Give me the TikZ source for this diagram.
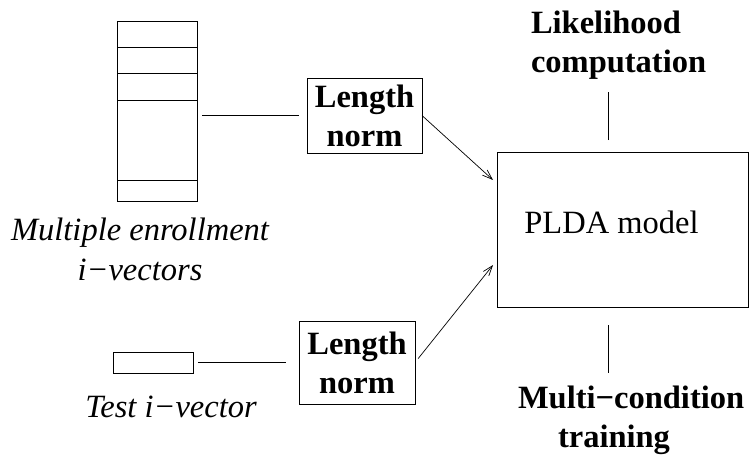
\documentclass[tikz,border=0pt]{standalone}
\usepackage{fontspec}
\setmainfont{Liberation Serif}
\usetikzlibrary{arrows.meta}
\begin{document}
\begin{tikzpicture}[x=1pt,y=-1pt,
  line width=0.9pt,
  every node/.style={inner sep=0pt, outer sep=0pt},
  rmtxt/.style={font=\fontsize{32.5}{39}\selectfont},
  bftxt/.style={font=\fontsize{32.5}{39}\selectfont\bfseries},
  ittxt/.style={font=\fontsize{32.5}{40}\selectfont\itshape},
  box/.style={draw, line width=0.9pt},
  flow/.style={-{Straight Barb[length=10pt,width=7pt]}, line width=0.7pt},
  link/.style={line width=0.9pt}]
\useasboundingbox (0,0) rectangle (750,455);

% stack of enrollment i-vectors
\node[box, minimum width=80pt, minimum height=180pt] (stack) at (157,111) {};
\foreach \yy in {47,73,100,180}
  \draw[link] (stack.west |- 0,\yy) -- (stack.east |- 0,\yy);
\node[ittxt, align=center, anchor=north] (enrlbl) at (140,218)
  {Multiple enrollment\\i−vectors};

% single test i-vector
\node[box, minimum width=80pt, minimum height=21pt] (testvec) at (153,362.5) {};
\node[ittxt, anchor=base] (testlbl) at (171,417) {Test i−vector};

% length normalisation blocks
\node[box, bftxt, align=center, minimum width=115pt, minimum height=75pt]
  (norm1) at (364.5,115.5) {Length\\norm};
\node[box, bftxt, align=center, minimum width=116pt, minimum height=83pt]
  (norm2) at (357,362.5) {Length\\norm};

% PLDA back end
\node[box, minimum width=251pt, minimum height=155pt] (plda) at (622.5,229.5) {};
\node[rmtxt, anchor=base] (pldalbl) at (611.5,233) {PLDA model};

\node[bftxt, align=left, anchor=north west] (likel) at (531,11)
  {Likelihood\\computation};
\node[bftxt, align=left, anchor=north west] (multi) at (518,386)
  {Multi−condition\\\hspace*{40pt}training};

% connectors
\draw[link, shorten <=5pt, shorten >=8pt] (stack.east |- norm1.west) -- (norm1.west);
\draw[link, shorten <=5pt, shorten >=13pt] (testvec.east) -- (testvec.east -| norm2.west);
\draw[flow] (norm1.east) -- ([xshift=-4pt, yshift=49.5pt]plda.west);
\draw[flow, shorten <=5pt] (norm2.east) -- ([xshift=-4pt, yshift=-35.5pt]plda.west);
\draw[link] ([xshift=-14.5pt, yshift=12pt]plda.north) -- ++(0,-48);
\draw[link] ([xshift=-14.5pt, yshift=-18pt]plda.south) -- ++(0,48);
\end{tikzpicture}
\end{document}
